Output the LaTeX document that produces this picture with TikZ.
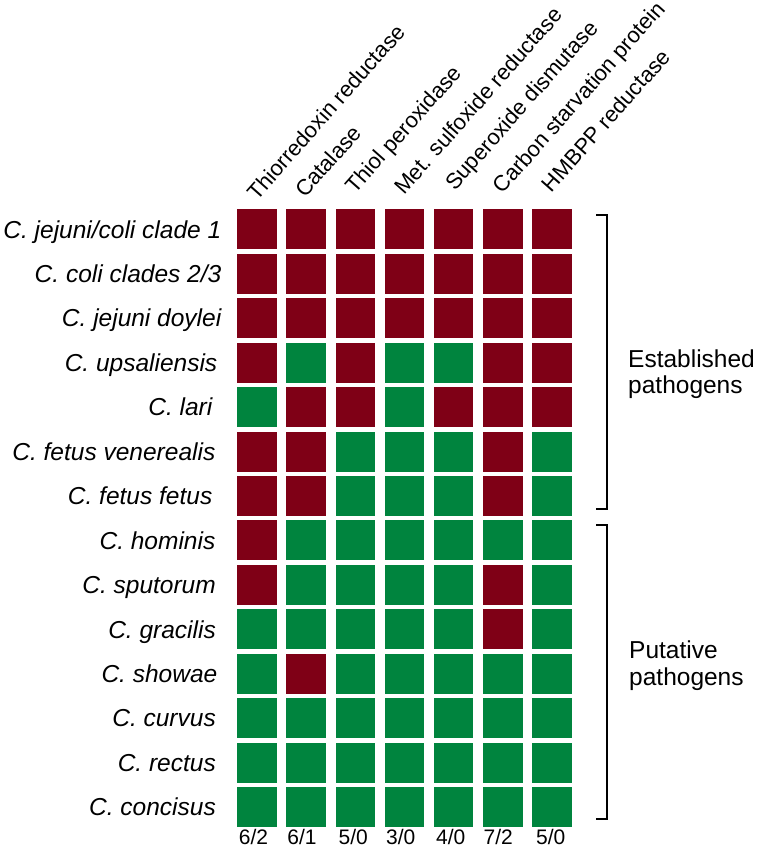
\documentclass[tikz,border=0pt]{standalone}
\usepackage{fontspec}
\setmainfont{Liberation Sans}
\usetikzlibrary{calc}
\definecolor{cR}{RGB}{127,0,22}
\definecolor{cG}{RGB}{0,132,62}
\begin{document}
\begin{tikzpicture}[x=1pt,y=-1pt,
  cell/.style={minimum width=39.7pt, minimum height=40pt, inner sep=0pt, outer sep=0pt, anchor=north west, draw=none},
  species/.style={font=\fontsize{24.5}{28}\selectfont\itshape, anchor=base east, inner sep=0pt},
  gene/.style={font=\fontsize{22}{26}\selectfont, anchor=base west, rotate=48.5, inner sep=0pt},
  countlab/.style={font=\fontsize{21}{24}\selectfont, anchor=base, inner sep=0pt},
  grouplab/.style={font=\fontsize{24.5}{28}\selectfont, anchor=base west, inner sep=0pt},
  bracketline/.style={line width=2pt, black}]
\useasboundingbox[fill=white] (0,0) rectangle (760,860);

% cells
\foreach \row [count=\i] in {
  {R,R,R,R,R,R,R},
  {R,R,R,R,R,R,R},
  {R,R,R,R,R,R,R},
  {R,G,R,G,G,R,R},
  {G,R,R,G,R,R,R},
  {R,R,G,G,G,R,G},
  {R,R,G,G,G,R,G},
  {R,G,G,G,G,G,G},
  {R,G,G,G,G,R,G},
  {G,G,G,G,G,R,G},
  {G,R,G,G,G,G,G},
  {G,G,G,G,G,G,G},
  {G,G,G,G,G,G,G},
  {G,G,G,G,G,G,G}} {
  \foreach \c [count=\j] in \row {
    \node[cell, fill=c\c] (cell-\i-\j) at ({237.3+(\j-1)*49.1},{209.3+(\i-1)*44.45}) {};
  }
}

% species labels
\node[species] (sp1)  at (221.5, {229.3+0*44.45+8.7}) {C. jejuni/coli clade 1};
\node[species] (sp2)  at (221.5, {229.3+1*44.45+8.7}) {C. coli clades 2/3};
\node[species] (sp3)  at (221.5, {229.3+2*44.45+8.7}) {C. jejuni doylei};
\node[species] (sp4)  at (217.5, {229.3+3*44.45+8.7}) {C. upsaliensis};
\node[species] (sp5)  at (212.5, {229.3+4*44.45+8.7}) {C. lari};
\node[species] (sp6)  at (215.5, {229.3+5*44.45+8.7}) {C. fetus venerealis};
\node[species] (sp7)  at (212.5, {229.3+6*44.45+8.7}) {C. fetus fetus};
\node[species] (sp8)  at (215.5, {229.3+7*44.45+8.7}) {C. hominis};
\node[species] (sp9)  at (216,   {229.3+8*44.45+8.7}) {C. sputorum};
\node[species] (sp10) at (216,   {229.3+9*44.45+8.7}) {C. gracilis};
\node[species] (sp11) at (217.5, {229.3+10*44.45+8.7}) {C. showae};
\node[species] (sp12) at (216,   {229.3+11*44.45+8.7}) {C. curvus};
\node[species] (sp13) at (216,   {229.3+12*44.45+8.7}) {C. rectus};
\node[species] (sp14) at (216,   {229.3+13*44.45+8.7}) {C. concisus};

% gene labels
\node[gene] (g1) at (257.3,201.5) {Thiorredoxin reductase};
\node[gene] (g2) at (305.0,199.0) {Catalase};
\node[gene] (g3) at (355.5,195.0) {Thiol peroxidase};
\node[gene] (g4) at (404.0,196.0) {Met. sulfoxide reductase};
\node[gene] (g5) at (455.0,192.0) {Superoxide dismutase};
\node[gene] (g6) at (502.5,195.0) {Carbon starvation protein};
\node[gene] (g7) at (551.5,193.5) {HMBPP reductase};

% counts
\node[countlab] (n1) at (253.5,844.8) {6/2};
\node[countlab] (n2) at (302.0,844.8) {6/1};
\node[countlab] (n3) at (353.3,844.8) {5/0};
\node[countlab] (n4) at (400.8,844.8) {3/0};
\node[countlab] (n5) at (450.8,844.8) {4/0};
\node[countlab] (n6) at (498.3,844.8) {7/2};
\node[countlab] (n7) at (550.8,844.8) {5/0};

% brackets
\coordinate (eTL) at (596,215);
\coordinate (eTR) at (607.3,215);
\coordinate (eBR) at (607.3,509);
\coordinate (eBL) at (596,509);
\draw[bracketline] (eTL) -- (eTR) -- (eBR) -- (eBL);
\coordinate (pTL) at (596,525);
\coordinate (pTR) at (607.3,525);
\coordinate (pBR) at (607.3,819);
\coordinate (pBL) at (596,819);
\draw[bracketline] (pTL) -- (pTR) -- (pBR) -- (pBL);

% group labels
\node[grouplab] (est1) at (628,367) {Established};
\node[grouplab] (est2) at (628,393) {pathogens};
\node[grouplab] (put1) at (629,658.3) {Putative};
\node[grouplab] (put2) at (629,685) {pathogens};
\end{tikzpicture}
\end{document}
